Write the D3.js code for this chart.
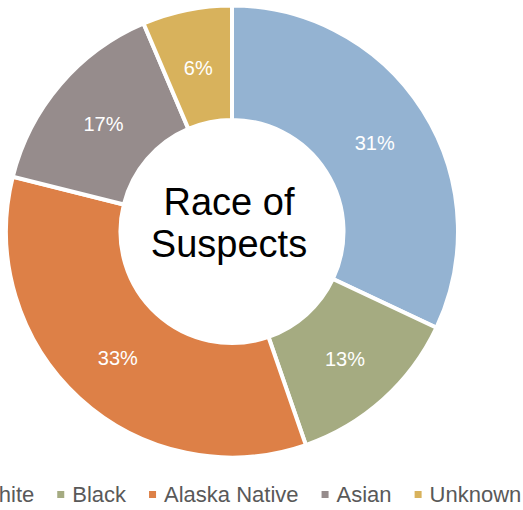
<!DOCTYPE html>
<html>
<head>
<meta charset="utf-8">
<script src="https://cdn.jsdelivr.net/npm/d3@7"></script>
<style>
  body { margin: 0; background: #fff; }
  svg { display: block; font-family: "Liberation Sans", Arial, sans-serif; }
</style>
</head>
<body>
<div id="chart"></div>
<script>
// data
var categories = ["White", "Black", "Alaska Native", "Asian", "Unknown"]
var shares = [32, 12.7, 34.2, 14.7, 6.4]          // slice sizes as drawn
var labels = ["31%", "13%", "33%", "17%", "6%"]    // printed labels
var colours = ["#94B3D2", "#A5AB81", "#DD8047", "#968C8C", "#D8B25C"]

var w = 523, h = 510
var cx = 232, cy = 231.5
var rOut = 226, rIn = 111.5

var svg = d3.select("#chart")
	.append("svg")
	.attr("width", w)
	.attr("height", h)

var pie = d3.pie().sort(null).value(function(d) { return d })
var arc = d3.arc().innerRadius(rIn).outerRadius(rOut)
var labelArc = d3.arc().innerRadius(169).outerRadius(169)

var arcs = pie(shares)

var donut = svg.append("g").attr("transform", "translate(" + cx + "," + cy + ")")

donut.selectAll("path")
	.data(arcs)
	.enter()
	.append("path")
	.attr("d", arc)
	.style("fill", function(d, i) { return colours[i] })
	.style("stroke", "#fff")
	.style("stroke-width", 4)

// percentage labels
donut.selectAll(".lbl")
	.data(arcs)
	.enter()
	.append("text")
	.classed("lbl", true)
	.attr("x", function(d) { return labelArc.centroid(d)[0] })
	.attr("y", function(d) { return labelArc.centroid(d)[1] + 9 })
	.attr("text-anchor", "middle")
	.style("fill", "#fff")
	.style("font-size", "20px")
	.text(function(d, i) { return labels[i] })

// title in the hole
var title = svg.append("text")
	.attr("text-anchor", "middle")
	.style("font-size", "38px")
	.style("fill", "#000")
title.append("tspan").attr("x", 229).attr("y", 215).text("Race of")
title.append("tspan").attr("x", 229).attr("y", 257).text("Suspects")

// legend along the bottom (runs off the left edge like the original)
var legend = svg.append("g")
var lx = -37
categories.forEach(function(c, i) {
	legend.append("rect")
		.attr("x", lx)
		.attr("y", 491)
		.attr("width", 7)
		.attr("height", 7)
		.style("fill", colours[i])
	var t = legend.append("text")
		.attr("x", lx + 15)
		.attr("y", 502)
		.style("font-size", "22px")
		.style("fill", "#595959")
		.text(c)
	lx += 15 + t.node().getComputedTextLength() + 23
})
</script>
</body>
</html>
